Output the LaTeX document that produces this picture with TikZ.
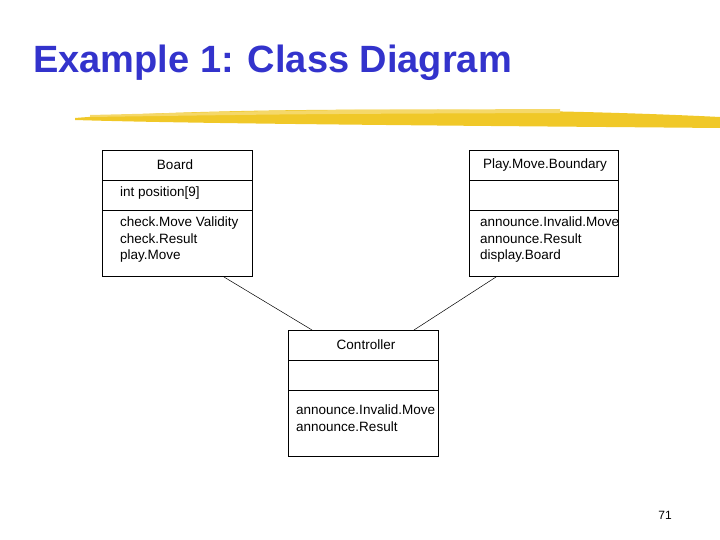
\documentclass[tikz,border=0pt]{standalone}
\usepackage{fontspec}
\setmainfont{Liberation Sans}
\definecolor{titleblue}{RGB}{51,51,204}
\definecolor{brushyellow}{RGB}{240,200,40}
\tikzset{
  part/.style={draw, line width=0.6pt, minimum width=150pt, inner sep=0pt, anchor=north west},
  txt/.style={font=\fontsize{13.5}{16.5}\selectfont, anchor=north west, inner sep=0pt, align=left},
  head/.style={font=\fontsize{13.5}{16.5}\selectfont, inner sep=0pt},
}
\begin{document}
\begin{tikzpicture}[x=1pt, y=-1pt]
    \useasboundingbox (0, 0) rectangle (720, 540);
    % title
    \node[anchor=base west, inner sep=0pt, text=titleblue, font=\fontsize{38}{42}\selectfont\bfseries] (title) at (33, 73) {Example 1: Class Diagram};
    % brush stroke
    \fill[brushyellow] (75, 118) .. controls (200, 108) and (500, 106) .. (720, 117)
      -- (720, 128) .. controls (500, 126) and (200, 124) .. (75, 120) -- cycle;
    \fill[brushyellow!70!white] (90, 115) .. controls (300, 110) .. (560, 109) -- (560, 113) .. controls (300, 114) .. (90, 117) -- cycle;

    % Board
    \node[part, minimum height=30pt] (boardName) at (102, 150) {};
    \node[part, minimum height=30pt] (boardAttr) at (102, 180) {};
    \node[part, minimum height=66pt] (boardOps) at (102, 210) {};
    \node[head] at (175, 165) {Board};
    \node[txt] at (120, 187) {int position[9]};
    \node[txt] at (120, 217) {check.Move Validity\\check.Result\\play.Move};

    % Play.Move.Boundary
    \node[part, minimum height=30pt, minimum width=149pt] (pmbName) at (469, 150) {};
    \node[part, minimum height=30pt, minimum width=149pt] (pmbAttr) at (469, 180) {};
    \node[part, minimum height=66pt, minimum width=149pt] (pmbOps) at (469, 210) {};
    \node[head] at (545, 165) {Play.Move.Boundary};
    \node[txt] at (480, 217) {announce.Invalid.Move\\announce.Result\\display.Board};

    % Controller
    \node[part, minimum height=30pt] (ctrlName) at (288, 330) {};
    \node[part, minimum height=30pt] (ctrlAttr) at (288, 360) {};
    \node[part, minimum height=66pt] (ctrlOps) at (288, 390) {};
    \node[head] at (366, 345) {Controller};
    \node[txt] at (296, 405) {announce.Invalid.Move\\announce.Result};

    % associations
    \coordinate (bEnd) at (224, 277);
    \coordinate (pEnd) at (496, 277);
    \draw[line width=0.5pt] (bEnd) -- (312, 330);
    \draw[line width=0.5pt] (pEnd) -- (414, 330);

    \node[font=\fontsize{12}{14}\selectfont] (page) at (665, 515) {71};
\end{tikzpicture}
\end{document}
